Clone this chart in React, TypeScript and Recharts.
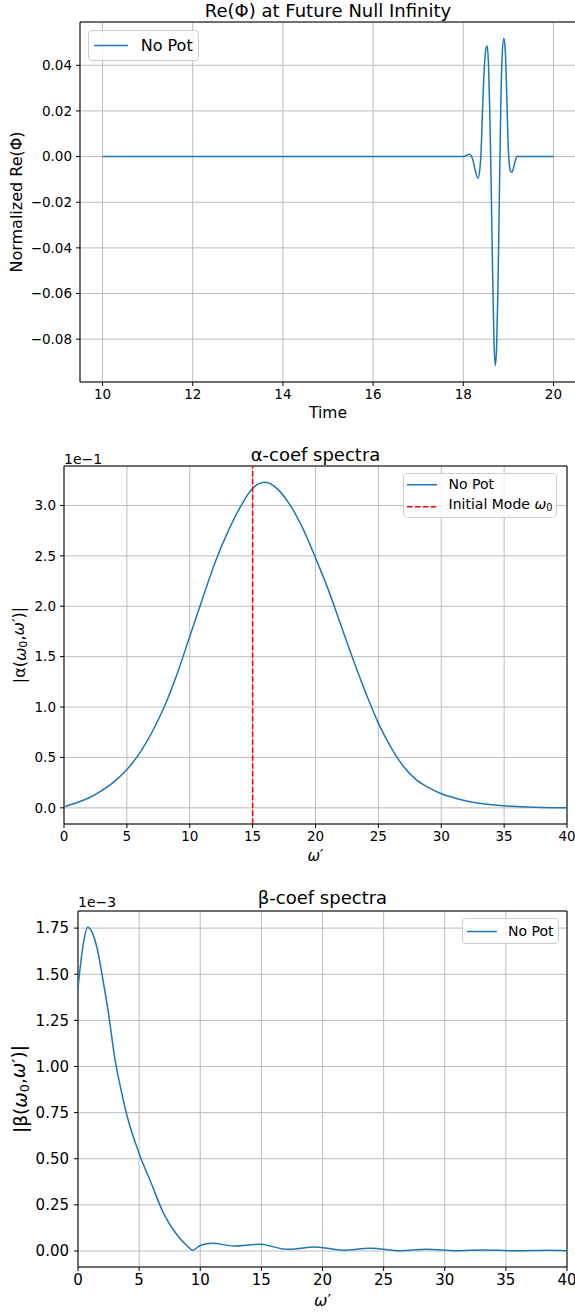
import React from 'react';
import { LineChart, Line, XAxis, YAxis, CartesianGrid, ReferenceLine, ReferenceArea, Legend, Label } from 'recharts';

// --- data ---
const timeVals = [10, 18, 18.06, 18.12, 18.18, 18.22, 18.27, 18.33, 18.37, 18.39, 18.43, 18.47, 18.5, 18.53, 18.56, 18.59, 18.62, 18.65, 18.68, 18.71, 18.74, 18.77, 18.8, 18.83, 18.86, 18.9, 18.93, 18.96, 18.99, 19.02, 19.05, 19.08, 19.12, 19.16, 19.2, 19.25, 20];
const rePhi = [0, 0, 0.0004, 0.001, 0.0003, -0.002, -0.0065, -0.0095, -0.005, 0, 0.022, 0.04, 0.047, 0.0484, 0.04, 0.018, -0.014, -0.05, -0.08, -0.0916, -0.083, -0.057, -0.018, 0.02, 0.043, 0.0518, 0.047, 0.03, 0.008, -0.003, -0.0065, -0.0069, -0.0045, -0.0015, 0.0001, 0, 0];
const timeTicks = [10, 12, 14, 16, 18, 20];
const phiTicks = [-0.08, -0.06, -0.04, -0.02, 0, 0.02, 0.04];

const alphaW = [0, 1, 2, 3, 4, 5, 6, 7, 8, 9, 10, 11, 12, 13, 14, 15, 16, 17, 18, 19, 20, 21, 22, 23, 24, 25, 26, 27, 28, 29, 30, 31, 32, 33, 34, 36, 38, 40];
const alphaAbs = [0.01, 0.05, 0.1, 0.17, 0.26, 0.38, 0.54, 0.75, 1.01, 1.33, 1.7, 2.07, 2.43, 2.73, 2.98, 3.17, 3.23, 3.16, 3.0, 2.77, 2.48, 2.17, 1.82, 1.47, 1.14, 0.84, 0.6, 0.41, 0.28, 0.2, 0.14, 0.1, 0.068, 0.045, 0.03, 0.012, 0.004, 0.001];
const alphaTicks = [0, 0.5, 1.0, 1.5, 2.0, 2.5, 3.0];
const omega0 = 15;

const betaW = [0, 0.4, 0.8, 1.2, 1.6, 2, 2.5, 3, 3.5, 4, 5, 6, 7, 8, 9, 9.37, 10, 11, 12.7, 14.9, 17.1, 19.4, 21.7, 23.9, 26.4, 28.5, 31, 33, 35.9, 38.5, 40];
const betaAbs = [1.427, 1.65, 1.755, 1.72, 1.63, 1.485, 1.286, 1.05, 0.88, 0.736, 0.529, 0.366, 0.204, 0.096, 0.023, 0.004, 0.03, 0.042, 0.027, 0.036, 0.009, 0.022, 0.004, 0.015, 0.002, 0.009, 0.001, 0.006, 0.001, 0.004, 0.002];
const betaTicks = [0, 0.25, 0.5, 0.75, 1.0, 1.25, 1.5, 1.75];
const omegaTicks = [0, 5, 10, 15, 20, 25, 30, 35, 40];

const FONT = '"DejaVu Sans", sans-serif';
const BLUE = '#1f77b4';
const GRID = '#bdbdbd';

const padDomain = (vals: number[]): [number, number] => {
  const lo = Math.min(...vals);
  const hi = Math.max(...vals);
  const m = (hi - lo) * 0.05;
  return [lo - m, hi + m];
};

const fmt = (digits: number) => (v: number) => (v < 0 ? '\u2212' : '') + Math.abs(v).toFixed(digits);

interface LegendItem {
  label: React.ReactNode;
  color: string;
  dash?: string;
}

const LegendBox = ({ items, fontSize, lineLen, gap, padX, padY, rowH }: any) => (
  <div
    style={{
      display: 'inline-block',
      background: 'rgba(255,255,255,0.8)',
      border: '1px solid #cccccc',
      borderRadius: 4,
      padding: `${padY}px ${padX}px`,
      fontFamily: FONT,
      fontSize,
      color: '#000',
      lineHeight: `${rowH}px`,
    }}
  >
    {items.map((it: LegendItem, i: number) => (
      <div key={i} style={{ display: 'flex', alignItems: 'center', height: rowH }}>
        <svg width={lineLen} height={rowH} style={{ display: 'block' }}>
          <line x1={0} x2={lineLen} y1={rowH / 2} y2={rowH / 2} stroke={it.color} strokeWidth={1.5} strokeDasharray={it.dash} />
        </svg>
        <span style={{ marginLeft: gap, whiteSpace: 'nowrap' }}>{it.label}</span>
      </div>
    ))}
  </div>
);

const yLabel = (content: React.ReactNode, dx: number, fontSize: number) => (props: any) => {
  const vb = props.viewBox || { x: 0, y: 0, width: 0, height: 0 };
  const cx = vb.x + dx;
  const cy = vb.y + vb.height / 2;
  return (
    <text x={cx} y={cy} transform={`rotate(-90 ${cx} ${cy})`} textAnchor="middle" dominantBaseline="central" fontFamily={FONT} fontSize={fontSize} fill="#000">
      {content}
    </text>
  );
};

const xLabel = (content: React.ReactNode, dy: number, fontSize: number) => (props: any) => {
  const vb = props.viewBox || { x: 0, y: 0, width: 0, height: 0 };
  return (
    <text x={vb.x + vb.width / 2} y={vb.y + dy} textAnchor="middle" fontFamily={FONT} fontSize={fontSize} fill="#000">
      {content}
    </text>
  );
};

const omegaPrime = (
  <>
    <tspan fontStyle="italic">ω</tspan>′
  </>
);

const coefLabel = (greek: string) => (
  <>
    |{greek}(<tspan fontStyle="italic">ω</tspan>
    <tspan fontSize="0.7em" dy="0.3em">0</tspan>
    <tspan dy="-0.3em">,</tspan>
    <tspan fontStyle="italic">ω</tspan>′)|
  </>
);

const Title = ({ text, left, width, top }: any) => (
  <div style={{ position: 'absolute', left, width, top, textAlign: 'center', fontFamily: FONT, fontSize: 18, lineHeight: '18px', color: '#000', whiteSpace: 'nowrap' }}>
    {text}
  </div>
);

const OffsetText = ({ text, left, top }: any) => (
  <div style={{ position: 'absolute', left, top, fontFamily: FONT, fontSize: 14, lineHeight: '14px', color: '#000' }}>{text}</div>
);

const PhiChart = () => {
  const data = timeVals.map((t, i) => ({ t, v: rePhi[i] }));
  const yDom = padDomain(rePhi);
  return (
    <div style={{ position: 'absolute', left: 0, top: 0 }}>
      <LineChart width={580} height={430} data={data} margin={{ top: 22, right: 4, bottom: 0, left: 0 }}>
        <CartesianGrid stroke={GRID} strokeWidth={1} />
        <XAxis dataKey="t" type="number" domain={[9.5, 20.5]} ticks={timeTicks} height={48} axisLine={false} tickLine={{ stroke: '#000' }} tickSize={4} tickMargin={3} tick={{ fontSize: 13.5, fill: '#000', fontFamily: FONT }}>
          <Label content={xLabel('Time', 36, 15.5)} />
        </XAxis>
        <YAxis type="number" domain={yDom} ticks={phiTicks} width={80} axisLine={false} tickLine={{ stroke: '#000' }} tickSize={4} tickMargin={4} tickFormatter={fmt(2)} tick={{ fontSize: 13.5, fill: '#000', fontFamily: FONT }}>
          <Label content={yLabel('Normalized Re(Φ)', 16.5, 16)} />
        </YAxis>
        <Line dataKey="v" type="monotone" stroke={BLUE} strokeWidth={1.5} dot={false} isAnimationActive={false} />
        <ReferenceArea x1={9.5} x2={20.5} y1={yDom[0]} y2={yDom[1]} fill="none" stroke="#000" strokeWidth={1} />
        <Legend
          layout="horizontal"
          verticalAlign="middle"
          align="center"
          wrapperStyle={{ left: 87.5, top: 29.5, width: 'auto', height: 'auto' }}
          content={() => <LegendBox items={[{ label: 'No Pot', color: BLUE }]} fontSize={16} lineLen={34} gap={12.7} padX={5.5} padY={5} rowH={19} />}
        />
      </LineChart>
      <Title text="Re(Φ) at Future Null Infinity" left={80} width={496} top={2} />
    </div>
  );
};

const AlphaChart = () => {
  const data = alphaW.map((w, i) => ({ w, v: alphaAbs[i] }));
  const yDom = padDomain(alphaAbs);
  return (
    <div style={{ position: 'absolute', left: 0, top: 440, width: 575, height: 430 }}>
      <LineChart width={575} height={430} data={data} margin={{ top: 26, right: 8, bottom: 0, left: 0 }}>
        <CartesianGrid stroke={GRID} strokeWidth={1} />
        <XAxis dataKey="w" type="number" domain={[0, 40]} ticks={omegaTicks} height={46} axisLine={false} tickLine={{ stroke: '#000' }} tickSize={4} tickMargin={3} tick={{ fontSize: 13.5, fill: '#000', fontFamily: FONT }}>
          <Label content={xLabel(omegaPrime, 37, 15)} />
        </XAxis>
        <YAxis type="number" domain={yDom} ticks={alphaTicks} width={64} axisLine={false} tickLine={{ stroke: '#000' }} tickSize={4} tickMargin={4} tickFormatter={fmt(1)} tick={{ fontSize: 13.5, fill: '#000', fontFamily: FONT }}>
          <Label content={yLabel(coefLabel('α'), 19.5, 16)} />
        </YAxis>
        <Line dataKey="v" type="monotone" stroke={BLUE} strokeWidth={1.5} dot={false} isAnimationActive={false} />
        <ReferenceLine x={omega0} stroke="#ff0000" strokeWidth={1.5} strokeDasharray="5.5 2.4" />
        <ReferenceArea x1={0} x2={40} y1={yDom[0]} y2={yDom[1]} fill="none" stroke="#000" strokeWidth={1} />
        <Legend
          layout="horizontal"
          verticalAlign="middle"
          align="center"
          wrapperStyle={{ left: 402.5, top: 33, width: 'auto', height: 'auto' }}
          content={() => (
            <LegendBox
              items={[
                { label: 'No Pot', color: BLUE },
                {
                  label: (
                    <>
                      Initial Mode <i>ω</i>
                      <sub style={{ fontSize: '0.7em', verticalAlign: '-0.25em' }}>0</sub>
                    </>
                  ),
                  color: '#ff0000',
                  dash: '5.5 2.4',
                },
              ]}
              fontSize={14}
              lineLen={30}
              gap={11.6}
              padX={3.5}
              padY={0}
              rowH={21.5}
            />
          )}
        />
      </LineChart>
      <Title text="α-coef spectra" left={64} width={503} top={5.8} />
      <OffsetText text="1e−1" left={64} top={12} />
    </div>
  );
};

const BetaChart = () => {
  const data = betaW.map((w, i) => ({ w, v: betaAbs[i] }));
  const yDom = padDomain(betaAbs);
  return (
    <div style={{ position: 'absolute', left: 0, top: 880, width: 575, height: 433 }}>
      <LineChart width={575} height={433} data={data} margin={{ top: 31, right: 8, bottom: 0, left: 0 }}>
        <CartesianGrid stroke={GRID} strokeWidth={1} />
        <XAxis dataKey="w" type="number" domain={[0, 40]} ticks={omegaTicks} height={46} axisLine={false} tickLine={{ stroke: '#000' }} tickSize={4} tickMargin={3.5} tick={{ fontSize: 15, fill: '#000', fontFamily: FONT }}>
          <Label content={xLabel(omegaPrime, 39, 16)} />
        </XAxis>
        <YAxis type="number" domain={yDom} ticks={betaTicks} width={78} axisLine={false} tickLine={{ stroke: '#000' }} tickSize={4} tickMargin={5} tickFormatter={fmt(2)} tick={{ fontSize: 15, fill: '#000', fontFamily: FONT }}>
          <Label content={yLabel(coefLabel('β'), 20, 18.5)} />
        </YAxis>
        <Line dataKey="v" type="monotone" stroke={BLUE} strokeWidth={1.5} dot={false} isAnimationActive={false} />
        <ReferenceArea x1={0} x2={40} y1={yDom[0]} y2={yDom[1]} fill="none" stroke="#000" strokeWidth={1} />
        <Legend
          layout="horizontal"
          verticalAlign="middle"
          align="center"
          wrapperStyle={{ left: 462, top: 38, width: 'auto', height: 'auto' }}
          content={() => <LegendBox items={[{ label: 'No Pot', color: BLUE }]} fontSize={14} lineLen={30} gap={11} padX={4} padY={1.5} rowH={21} />}
        />
      </LineChart>
      <Title text="β-coef spectra" left={78} width={489} top={8.8} />
      <OffsetText text="1e−3" left={78} top={15} />
    </div>
  );
};

export default function App() {
  return (
    <div style={{ position: 'absolute', left: 0, top: 0, width: 575, height: 1313, overflow: 'hidden', background: '#fff' }}>
      <PhiChart />
      <AlphaChart />
      <BetaChart />
    </div>
  );
}
